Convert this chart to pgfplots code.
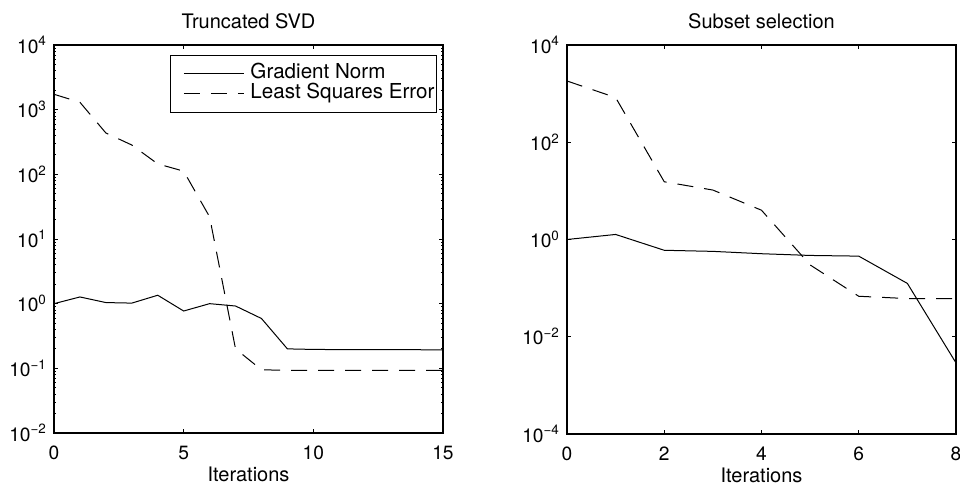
\documentclass[border=0pt]{standalone}
\usepackage{fontspec}
\setmainfont{TeX Gyre Heros}
\usepackage{pgfplots}
\pgfplotsset{compat=1.18}

\pgfplotsset{
  every axis/.append style={
    axis line style={line width=0.6pt},
    tick style={black, line width=0.4pt},
    major tick length=2pt, minor tick length=1.2pt,
    tick label style={font=\fontsize{9.6}{11}\selectfont},
    xticklabel style={yshift=-3pt},
  },
  every axis title/.style={font=\fontsize{10}{12}\selectfont, at={(0.5,1)}, anchor=base, yshift=8pt},
  every axis x label/.style={font=\fontsize{10}{12}\selectfont, at={(0.5,0)}, anchor=base, yshift=-24.3pt},
  legend image code/.code={\path (-5.5pt,0pt); \draw[#1] (0pt,0pt) -- (30pt,0pt); \path (33pt,0pt);},
}

\begin{document}
\begin{tikzpicture}
\useasboundingbox (-27pt,-27pt) rectangle (453pt,216.5pt);
% left: truncated SVD
\begin{semilogyaxis}[
  scale only axis, width=194.5pt, height=194pt,
  /pgf/number format/assume math mode=true,
  title={Truncated SVD}, xlabel={Iterations},
  xmin=0, xmax=15, xtick={0,5,10,15},
  ymin=1e-2, ymax=1e4,
  ytick={1e-2,1e-1,1,1e1,1e2,1e3,1e4},
  yticklabels={10\textsuperscript{−2},10\textsuperscript{−1},10\textsuperscript{0},10\textsuperscript{1},10\textsuperscript{2},10\textsuperscript{3},10\textsuperscript{4}},
  minor ytick={0.02,0.03,0.04,0.05,0.06,0.07,0.08,0.09,
    0.2,0.3,0.4,0.5,0.6,0.7,0.8,0.9,
    2,3,4,5,6,7,8,9,20,30,40,50,60,70,80,90,
    200,300,400,500,600,700,800,900,2000,3000,4000,5000,6000,7000,8000,9000},
  legend style={at={(axis description cs:1,1)}, anchor=north east, xshift=-3pt, yshift=-5pt,
    draw=black, line width=0.5pt, font=\fontsize{10.3}{11}\selectfont,
    inner xsep=1pt, inner ysep=4.25pt, row sep=0pt,
    nodes={inner sep=0pt, text height=7.2pt, text depth=2.8pt}},
  legend cell align=left,
]
\addplot[black, line width=0.5pt] coordinates {(0,1.0)(1,1.27)(2,1.04)(3,1.02)(4,1.35)(5,0.77)(6,1.0)(7,0.92)(8,0.59)(9,0.2)(10,0.196)(11,0.195)(12,0.195)(13,0.194)(14,0.194)(15,0.193)};
\addlegendentry{Gradient Norm}
\addplot[black, line width=0.5pt, dash pattern=on 8pt off 5.5pt] coordinates {(0,1730)(1,1300)(2,436)(3,284)(4,145)(5,112)(6,22)(7,0.2)(8,0.095)(9,0.093)(10,0.093)(11,0.093)(12,0.093)(13,0.093)(14,0.093)(15,0.093)};
\addlegendentry{Least Squares Error}
\end{semilogyaxis}
% right: subset selection
\begin{semilogyaxis}[
  scale only axis, width=194.5pt, height=194.5pt, at={(256.5pt,-0.5pt)},
  /pgf/number format/assume math mode=true,
  title={Subset selection}, xlabel={Iterations},
  xmin=0, xmax=8, xtick={0,2,4,6,8},
  ymin=1e-4, ymax=1e4,
  ytick={1e-4,1e-2,1,1e2,1e4},
  yticklabels={10\textsuperscript{−4},10\textsuperscript{−2},10\textsuperscript{0},10\textsuperscript{2},10\textsuperscript{4}},
  yminorticks=false,
]
\addplot[black, line width=0.5pt] coordinates {(0,1.0)(1,1.27)(2,0.6)(3,0.57)(4,0.51)(5,0.47)(6,0.455)(7,0.125)(8,0.0029)};
\addplot[black, line width=0.5pt, dash pattern=on 8pt off 5.5pt] coordinates {(0,1820)(1,830)(2,15.4)(3,10.4)(4,4.0)(5,0.30)(6,0.068)(7,0.061)(8,0.061)};
\end{semilogyaxis}
\end{tikzpicture}
\end{document}
